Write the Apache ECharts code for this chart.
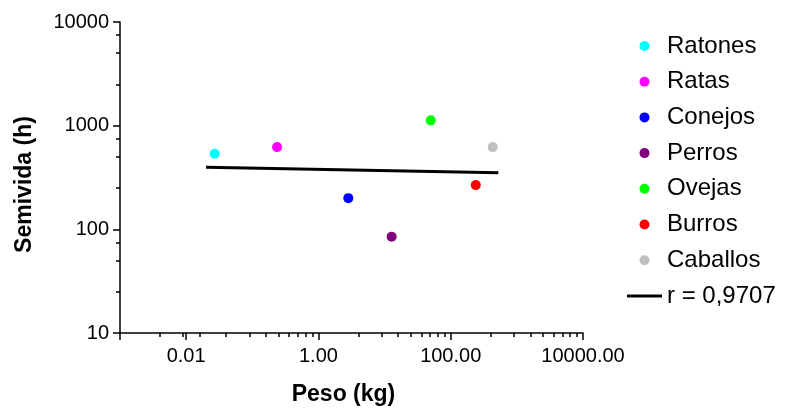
<!DOCTYPE html>
<html>
<head>
<meta charset="utf-8">
<script src="https://cdn.jsdelivr.net/npm/echarts@6/dist/echarts.min.js"></script>
<style>
html,body{margin:0;padding:0;background:#fff;}
#chart{width:788px;height:412px;}
</style>
</head>
<body>
<div id="chart"></div>
<script>
// ---- data ----
const species = ['Ratones', 'Ratas', 'Conejos', 'Perros', 'Ovejas', 'Burros', 'Caballos'];
const weightKg = [0.027, 0.237, 2.83, 12.8, 49.9, 239, 431];
const halfLifeH = [536, 621, 200, 85, 1125, 267, 621];
const fitWeight = [0.02, 525];
const fitHalfLife = [398, 351];
const fitLabel = 'r = 0,9707';

const xMajorTicks = [0.001, 0.01, 1, 100, 10000];
const xTickLabels = [0.01, 1, 100, 10000];
const xMinorTicks = [0.004, 0.009, 0.016, 0.04, 0.09, 0.16, 0.25, 0.36, 0.49, 0.64, 0.81,
  4, 9, 16, 25, 36, 49, 64, 81, 400, 900, 1600, 2500, 3600, 4900, 6400, 8100];
const yTickLabels = [10, 100, 1000, 10000];
const yMinorTicks = [25, 50, 75, 250, 500, 750, 2500, 5000, 7500];

// ---- styles ----
const palette = ['#00ffff', '#ff00ff', '#0000ff', '#800080', '#00ff00', '#ff0000', '#c0c0c0'];
const FONT = 'Liberation Sans, Arial, sans-serif';

const chart = echarts.init(document.getElementById('chart'), null, {renderer: 'canvas'});

const grid = {left: 120, right: 205, top: 22, bottom: 79, containLabel: false};

function baseLog(extra) {
  return Object.assign({
    type: 'log', logBase: 10, gridIndex: 0,
    splitLine: {show: false}, minorTick: {show: false}, minorSplitLine: {show: false}
  }, extra);
}

const option = {
  animation: false,
  backgroundColor: '#fff',
  grid: grid,
  xAxis: [
    baseLog({
      min: 0.001, max: 10000,
      name: 'Peso (kg)', nameLocation: 'middle', nameGap: 50,
      nameTextStyle: {fontFamily: FONT, fontSize: 23, fontWeight: 'bold', color: '#000', padding: [0, 16, 0, 0]},
      axisLine: {show: true, lineStyle: {color: '#000', width: 1.5}},
      axisTick: {show: true, length: 7, lineStyle: {color: '#000', width: 1.5}, customValues: xMajorTicks},
      axisLabel: {show: true, margin: 13, fontFamily: FONT, fontSize: 20, color: '#000',
        customValues: xTickLabels, formatter: v => Number(v).toFixed(2)}
    }),
    baseLog({
      min: 0.001, max: 10000, position: 'bottom',
      axisLine: {show: false},
      axisTick: {show: true, length: 4, lineStyle: {color: '#000', width: 1.5}, customValues: xMinorTicks},
      axisLabel: {show: false}
    })
  ],
  yAxis: [
    baseLog({
      min: 10, max: 10000,
      name: 'Semivida (h)', nameLocation: 'middle', nameGap: 84,
      nameTextStyle: {fontFamily: FONT, fontSize: 23, fontWeight: 'bold', color: '#000', padding: [0, 14, 0, 0]},
      axisLine: {show: true, lineStyle: {color: '#000', width: 1.5}},
      axisTick: {show: true, length: 7, lineStyle: {color: '#000', width: 1.5}, customValues: yTickLabels},
      axisLabel: {show: true, margin: 11, fontFamily: FONT, fontSize: 20, color: '#000',
        customValues: yTickLabels, formatter: v => String(Math.round(Number(v)))}
    }),
    baseLog({
      min: 10, max: 10000, position: 'left',
      axisLine: {show: false},
      axisTick: {show: true, length: 4, lineStyle: {color: '#000', width: 1.5}, customValues: yMinorTicks},
      axisLabel: {show: false}
    })
  ],
  legend: {
    orient: 'vertical', left: 627, top: 34, padding: 0,
    itemWidth: 35, itemHeight: 10, itemGap: 11.7,
    textStyle: {fontFamily: FONT, fontSize: 24, color: '#000', lineHeight: 24},
    data: species.map(s => ({name: s, icon: 'circle'}))
      .concat([{name: fitLabel, icon: 'path://M0,0 H35 V3 H0 Z'}])
  },
  series: species.map((s, i) => ({
    name: s, type: 'scatter', xAxisIndex: 0, yAxisIndex: 0,
    symbol: 'circle', symbolSize: 10,
    itemStyle: {color: palette[i], opacity: 1},
    data: [[weightKg[i], halfLifeH[i]]]
  })).concat([{
    name: fitLabel, type: 'line', xAxisIndex: 0, yAxisIndex: 0,
    symbol: 'none', showSymbol: false,
    lineStyle: {color: '#000', width: 3},
    itemStyle: {color: '#000'},
    data: fitWeight.map((w, i) => [w, fitHalfLife[i]])
  }])
};
chart.setOption(option);
</script>
</body>
</html>
